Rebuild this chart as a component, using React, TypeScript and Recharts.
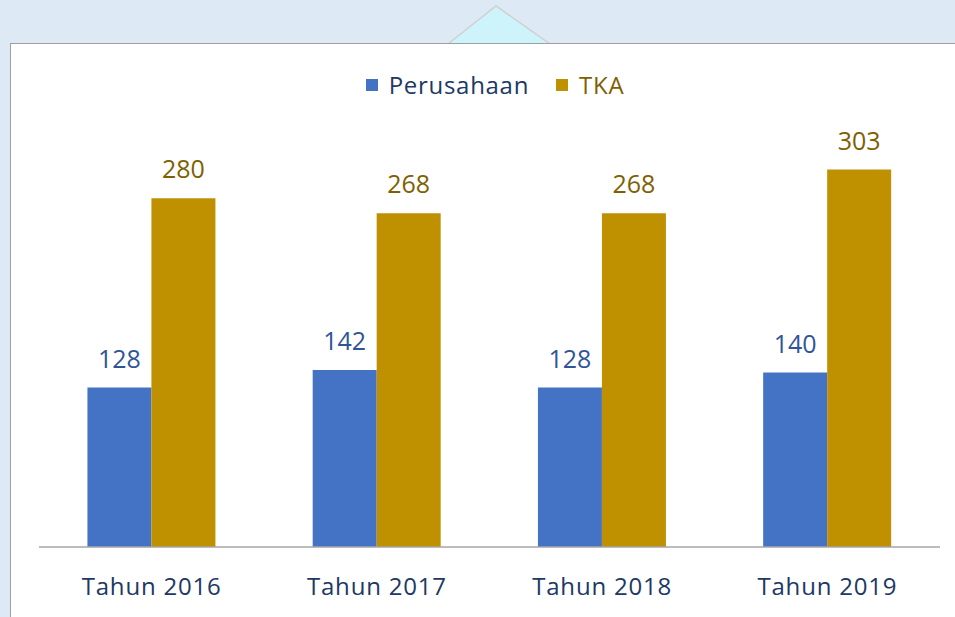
import React from "react";
import { BarChart, Bar, XAxis, YAxis, LabelList } from "recharts";

const categories = ["Tahun 2016", "Tahun 2017", "Tahun 2018", "Tahun 2019"];
const perusahaan = [128, 142, 128, 140];
const tka = [280, 268, 268, 303];

const data = categories.map((c, i) => ({ name: c, Perusahaan: perusahaan[i], TKA: tka[i] }));

const FONT = "'Open Sans', 'Noto Sans', sans-serif";
const BLUE = "#4472c4";
const GOLD = "#bf9000";

export default function App() {
  return (
    <div style={{ position: "fixed", left: 0, top: 0, width: 955, height: 617, background: "#dde9f5", overflow: "hidden" }}>
      <svg width={955} height={617} style={{ position: "absolute", left: 0, top: 0 }}>
        <polygon points="448,44 496,6 550,44" fill="#cdf4fa" stroke="#d0d0d0" strokeWidth={1.5} />
      </svg>
      <div style={{ position: "absolute", left: 10, top: 43, width: 960, height: 600, background: "#fff", borderLeft: "1.5px solid #a0a0a0", borderTop: "1.5px solid #a0a0a0" }} />
      <div style={{ position: "absolute", left: 0, top: 68, width: 990, display: "flex", justifyContent: "center", fontFamily: FONT, fontSize: 24, letterSpacing: 0.7 }}>
        <span style={{ display: "flex", alignItems: "center", marginRight: 27 }}>
          <span style={{ width: 12, height: 12, background: BLUE, marginRight: 11, display: "inline-block" }} />
          <span style={{ color: "#203864" }}>Perusahaan</span>
        </span>
        <span style={{ display: "flex", alignItems: "center" }}>
          <span style={{ width: 12, height: 12, background: GOLD, marginRight: 11, display: "inline-block" }} />
          <span style={{ color: "#7f6000" }}>TKA</span>
        </span>
      </div>
      <div style={{ position: "absolute", left: 10, top: 43 }}>
        <BarChart width={945} height={574} data={data} margin={{ top: 68, right: 15, bottom: 0, left: 29 }} barCategoryGap="21.5%" barGap={0}>
          <XAxis dataKey="name" height={70} tickLine={false} axisLine={{ stroke: "#a6a6a6", strokeWidth: 1.5 }} tickMargin={25} tick={{ fill: "#203864", fontSize: 24, fontFamily: FONT, letterSpacing: 0.8 }} />
          <YAxis hide domain={[0, 350]} />
          <Bar dataKey="Perusahaan" fill={BLUE} isAnimationActive={false}>
            <LabelList dataKey="Perusahaan" position="top" offset={20} style={{ fill: "#2f5597", fontSize: 25, fontFamily: FONT }} />
          </Bar>
          <Bar dataKey="TKA" fill={GOLD} isAnimationActive={false}>
            <LabelList dataKey="TKA" position="top" offset={20} style={{ fill: "#7f6000", fontSize: 25, fontFamily: FONT }} />
          </Bar>
        </BarChart>
      </div>
    </div>
  );
}
